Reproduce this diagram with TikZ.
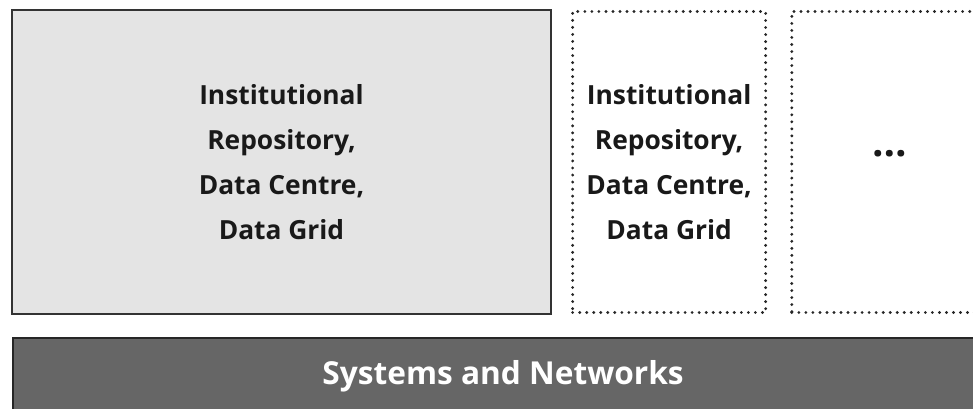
\documentclass[tikz,border=0pt]{standalone}
\usepackage{fontspec}
\setmainfont{Open Sans}
\usepackage{tikz}
\usetikzlibrary{positioning}

\definecolor{boxgray}{HTML}{E4E4E4}
\definecolor{bargray}{HTML}{666666}
\definecolor{edgegray}{HTML}{333333}

\begin{document}
\begin{tikzpicture}[
  block/.style={rectangle, draw=edgegray, line width=1.2pt, align=center, font=\fontsize{15}{25.5}\selectfont\bfseries, text=black!90},
  dotbox/.style={rectangle, draw=black!85, line width=1.8pt, dash pattern=on 0pt off 4pt, line cap=round, align=center, font=\fontsize{15}{25.5}\selectfont\bfseries, text=black!90},
  bar/.style={rectangle, draw=black!85, line width=1.2pt, fill=bargray, text=white, font=\fontsize{18}{24}\selectfont\bfseries},
]
\useasboundingbox (0,0) rectangle (19.46,8.16);
% repositories
\node[block, fill=boxgray, minimum width=10.78cm, minimum height=6.08cm] (repo) at (5.63,4.92)
  {Institutional\\Repository,\\Data Centre,\\Data Grid};
\node[dotbox, minimum width=3.86cm, minimum height=6.02cm, right=0.38cm of repo] (repo2)
  {Institutional\\Repository,\\Data Centre,\\Data Grid};
\node[dotbox, minimum width=3.9cm, minimum height=6.02cm, right=0.46cm of repo2, font=\fontsize{23}{25.5}\selectfont\bfseries] (more) {\raisebox{0.35cm}{\dots}};
% infrastructure
\node[bar, minimum width=19.6cm, minimum height=1.52cm, anchor=north west] (sys) at (0.24,1.42) {Systems and Networks};
\end{tikzpicture}
\end{document}
